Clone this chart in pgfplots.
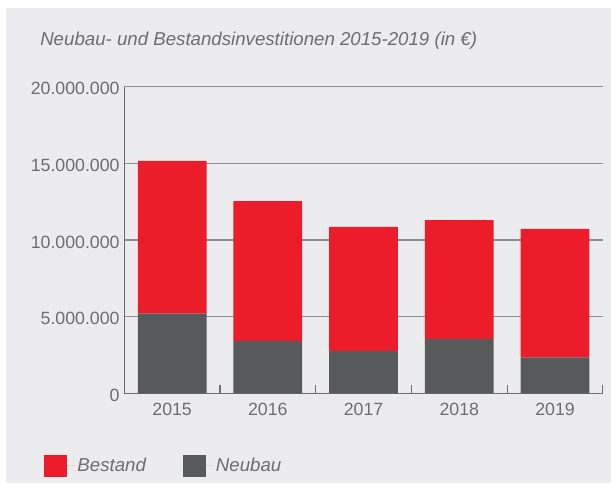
\documentclass[border=0pt]{standalone}
\usepackage{pgfplots}
\pgfplotsset{compat=1.18}
\usepackage{fontspec}
\setmainfont{Liberation Sans}
\definecolor{bg}{HTML}{ECECEE}
\definecolor{bred}{HTML}{ED1C2A}
\definecolor{bgray}{HTML}{58595B}
\definecolor{txt}{HTML}{6D6E71}
\definecolor{gridc}{HTML}{8C8C8E}
\begin{document}
\begin{tikzpicture}
\useasboundingbox (0,0) rectangle (458.25pt,363.75pt);
\fill[bg] (4.5pt,1.5pt) rectangle (458.25pt,357.4pt);
\node[anchor=base west, text=txt, font=\fontsize{14}{16}\selectfont\itshape, inner sep=0pt] at (30pt,329.5pt) {Neubau- und Bestandsinvestitionen 2015-2019 (in €)};
\begin{axis}[
 at={(93.2pt,68.7pt)}, anchor=south west,
 scale only axis, width=359pt, height=230.1pt,
 xmin=-0.5, xmax=4.5, ymin=0, ymax=20000000,
 ybar stacked, bar width=0.718,
 axis x line*=bottom, axis y line*=left,
 axis line style={draw=txt, line width=0.8pt},
 xtick={0,...,4}, xticklabels={2015,2016,2017,2018,2019},
 major x tick style={draw=none},
 minor xtick={0.5,1.5,2.5,3.5,4.5},
 minor x tick style={draw=txt, line width=0.8pt},
 minor tick length=6pt, tick align=inside,
 ytick={0,5000000,10000000,15000000,20000000},
 ytick style={draw=none},
 scaled y ticks=false,
 /pgf/number format/assume math mode=true,
 tick label style={font=\fontsize{13.3}{15}\selectfont, text=txt},
 xticklabel style={yshift=-3.75pt},
 yticklabel style={yshift=-1.5pt, /pgf/number format/.cd, fixed, 1000 sep={.}, precision=0},
 ymajorgrids, grid style={draw=gridc, line width=0.8pt},
 legend style={at={(-0.168,-0.2366)}, anchor=west, draw=none, fill=none, legend columns=2,
   font=\fontsize{14}{16}\selectfont\itshape, text=txt, inner sep=0pt,
   /tikz/every even column/.append style={column sep=25.5pt}},
 legend image code/.code={\fill[#1] (0pt,-8.6pt) rectangle (17.25pt,8.6pt); \path (0pt,0pt) -- (23pt,0pt);},
 reverse legend,
]
\addplot[fill=bgray, draw=none] coordinates {(0,5200000) (1,3420000) (2,2760000) (3,3550000) (4,2350000)};
\addlegendentry{Neubau}
\addplot[fill=bred, draw=none] coordinates {(0,9950000) (1,9120000) (2,8090000) (3,7750000) (4,8370000)};
\addlegendentry{Bestand}
\end{axis}
\end{tikzpicture}
\end{document}
